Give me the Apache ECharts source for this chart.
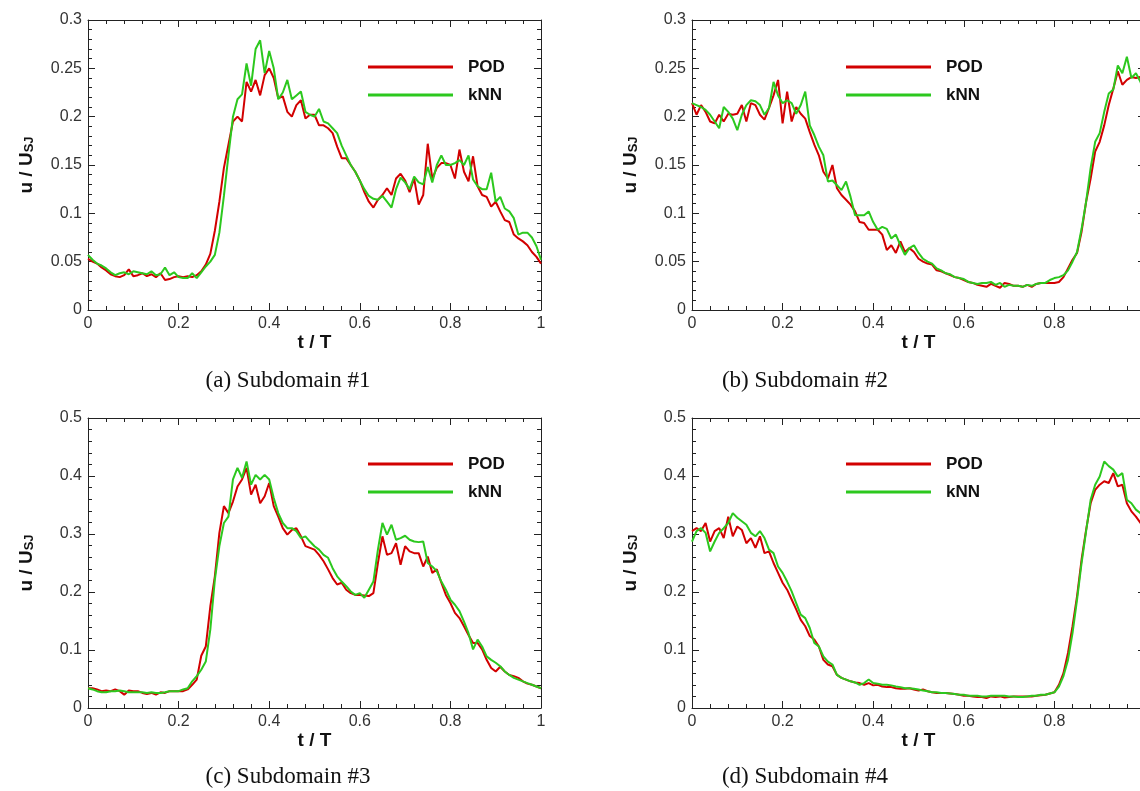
<!DOCTYPE html>
<html>
<head>
<meta charset="utf-8">
<title>u / U_SJ against t / T, four subdomains</title>
<script src="https://cdn.jsdelivr.net/npm/echarts@6/dist/echarts.min.js"></script>
<style>
  html, body { margin: 0; padding: 0; background: #fff; overflow: hidden; }
  #chart { width: 1140px; height: 791px; }
</style>
</head>
<body>
<div id="chart"></div>
<script>
// sample times t/T, every 0.01
const tGrid = [0,0.01,0.02,0.03,0.04,0.05,0.06,0.07,0.08,0.09,
  0.1,0.11,0.12,0.13,0.14,0.15,0.16,0.17,0.18,0.19,
  0.2,0.21,0.22,0.23,0.24,0.25,0.26,0.27,0.28,0.29,
  0.3,0.31,0.32,0.33,0.34,0.35,0.36,0.37,0.38,0.39,
  0.4,0.41,0.42,0.43,0.44,0.45,0.46,0.47,0.48,0.49,
  0.5,0.51,0.52,0.53,0.54,0.55,0.56,0.57,0.58,0.59,
  0.6,0.61,0.62,0.63,0.64,0.65,0.66,0.67,0.68,0.69,
  0.7,0.71,0.72,0.73,0.74,0.75,0.76,0.77,0.78,0.79,
  0.8,0.81,0.82,0.83,0.84,0.85,0.86,0.87,0.88,0.89,
  0.9,0.91,0.92,0.93,0.94,0.95,0.96,0.97,0.98,0.99,1];

// (a) Subdomain #1
const podA = [0.053,0.050,0.048,0.044,0.041,0.037,0.035,0.034,0.036,0.042,
  0.035,0.036,0.038,0.035,0.037,0.034,0.038,0.031,0.032,0.034,
  0.035,0.034,0.035,0.034,0.036,0.040,0.047,0.058,0.082,0.112,
  0.147,0.171,0.195,0.200,0.195,0.236,0.226,0.238,0.222,0.243,
  0.250,0.240,0.219,0.221,0.205,0.200,0.212,0.217,0.198,0.202,
  0.202,0.191,0.191,0.188,0.183,0.169,0.157,0.157,0.150,0.143,
  0.134,0.122,0.112,0.106,0.114,0.119,0.126,0.119,0.136,0.141,
  0.134,0.122,0.136,0.109,0.119,0.172,0.136,0.147,0.152,0.152,
  0.150,0.136,0.166,0.143,0.133,0.159,0.128,0.119,0.117,0.107,
  0.112,0.102,0.093,0.091,0.078,0.074,0.071,0.067,0.060,0.055,0.048];
const knnA = [0.057,0.052,0.048,0.046,0.043,0.039,0.036,0.038,0.039,0.037,
  0.040,0.039,0.038,0.037,0.040,0.036,0.037,0.044,0.036,0.039,
  0.034,0.033,0.033,0.038,0.033,0.039,0.045,0.050,0.057,0.080,
  0.118,0.160,0.200,0.218,0.223,0.255,0.232,0.270,0.279,0.245,
  0.268,0.250,0.218,0.225,0.238,0.218,0.222,0.226,0.205,0.202,
  0.200,0.208,0.195,0.193,0.188,0.183,0.170,0.160,0.150,0.143,
  0.134,0.125,0.118,0.115,0.114,0.118,0.112,0.106,0.125,0.137,
  0.132,0.125,0.138,0.132,0.130,0.148,0.132,0.150,0.160,0.150,
  0.150,0.152,0.155,0.150,0.160,0.135,0.128,0.125,0.125,0.142,
  0.112,0.117,0.105,0.102,0.095,0.078,0.080,0.080,0.075,0.066,0.052];

// (b) Subdomain #2
const podB = [0.214,0.202,0.212,0.205,0.195,0.193,0.202,0.195,0.203,0.202,
  0.203,0.212,0.195,0.214,0.212,0.202,0.197,0.209,0.222,0.238,
  0.193,0.226,0.195,0.210,0.203,0.198,0.184,0.171,0.160,0.143,
  0.136,0.150,0.126,0.119,0.114,0.109,0.102,0.091,0.090,0.083,
  0.083,0.083,0.078,0.062,0.067,0.059,0.071,0.060,0.064,0.060,
  0.053,0.050,0.048,0.047,0.041,0.040,0.038,0.036,0.034,0.033,
  0.031,0.029,0.028,0.026,0.025,0.024,0.027,0.025,0.023,0.028,
  0.027,0.025,0.025,0.024,0.026,0.024,0.027,0.028,0.028,0.028,
  0.028,0.029,0.034,0.043,0.052,0.059,0.081,0.112,0.136,0.164,
  0.174,0.191,0.212,0.229,0.247,0.233,0.238,0.241,0.240,0.241,0.235];
const knnB = [0.214,0.212,0.210,0.207,0.202,0.195,0.188,0.210,0.205,0.198,
  0.186,0.202,0.212,0.217,0.216,0.212,0.202,0.209,0.236,0.222,
  0.214,0.217,0.214,0.203,0.212,0.226,0.191,0.181,0.169,0.160,
  0.133,0.134,0.129,0.124,0.133,0.117,0.098,0.098,0.098,0.102,
  0.091,0.083,0.086,0.084,0.074,0.078,0.067,0.057,0.064,0.067,
  0.059,0.053,0.050,0.048,0.043,0.041,0.038,0.037,0.034,0.033,
  0.032,0.029,0.028,0.027,0.028,0.028,0.029,0.026,0.028,0.024,
  0.026,0.025,0.025,0.024,0.026,0.025,0.027,0.028,0.028,0.031,
  0.033,0.034,0.036,0.041,0.050,0.060,0.084,0.112,0.147,0.174,
  0.183,0.205,0.224,0.228,0.253,0.245,0.262,0.240,0.245,0.236,0.222];

// (c) Subdomain #3
const podC = [0.034,0.034,0.032,0.029,0.030,0.029,0.032,0.029,0.023,0.030,
  0.029,0.029,0.026,0.024,0.026,0.023,0.027,0.026,0.029,0.029,
  0.029,0.029,0.032,0.040,0.049,0.090,0.106,0.175,0.227,0.302,
  0.348,0.336,0.356,0.382,0.394,0.414,0.368,0.385,0.353,0.365,
  0.388,0.348,0.330,0.310,0.299,0.307,0.310,0.296,0.279,0.276,
  0.273,0.264,0.253,0.239,0.224,0.213,0.216,0.204,0.198,0.195,
  0.195,0.194,0.193,0.198,0.250,0.296,0.264,0.267,0.284,0.247,
  0.279,0.270,0.267,0.267,0.244,0.261,0.233,0.239,0.216,0.195,
  0.181,0.164,0.155,0.141,0.126,0.112,0.112,0.101,0.083,0.069,
  0.063,0.071,0.063,0.057,0.055,0.052,0.046,0.042,0.040,0.037,0.034];
const knnC = [0.034,0.032,0.029,0.027,0.027,0.029,0.029,0.030,0.029,0.027,
  0.027,0.027,0.027,0.026,0.027,0.026,0.026,0.027,0.029,0.029,
  0.029,0.032,0.034,0.046,0.055,0.066,0.080,0.135,0.221,0.279,
  0.319,0.330,0.394,0.414,0.397,0.425,0.385,0.402,0.394,0.402,
  0.394,0.362,0.336,0.319,0.310,0.310,0.305,0.293,0.296,0.287,
  0.279,0.273,0.264,0.259,0.241,0.227,0.218,0.210,0.201,0.195,
  0.198,0.190,0.204,0.218,0.273,0.319,0.299,0.316,0.290,0.293,
  0.297,0.290,0.287,0.286,0.287,0.250,0.244,0.236,0.218,0.204,
  0.187,0.178,0.167,0.149,0.129,0.101,0.118,0.106,0.089,0.083,
  0.078,0.072,0.063,0.057,0.052,0.049,0.046,0.043,0.040,0.037,0.034];

// (d) Subdomain #4
const podD = [0.305,0.310,0.305,0.319,0.287,0.305,0.310,0.293,0.330,0.296,
  0.313,0.307,0.284,0.293,0.276,0.296,0.267,0.270,0.250,0.233,
  0.216,0.204,0.187,0.170,0.152,0.141,0.124,0.118,0.106,0.083,
  0.075,0.072,0.057,0.052,0.049,0.046,0.044,0.043,0.040,0.043,
  0.039,0.040,0.037,0.036,0.036,0.034,0.033,0.033,0.034,0.032,
  0.030,0.032,0.029,0.027,0.026,0.026,0.026,0.025,0.024,0.023,
  0.021,0.021,0.020,0.019,0.019,0.017,0.020,0.019,0.020,0.018,
  0.019,0.020,0.020,0.020,0.020,0.020,0.021,0.022,0.023,0.025,
  0.027,0.040,0.060,0.095,0.141,0.193,0.256,0.307,0.353,0.376,
  0.385,0.391,0.388,0.405,0.382,0.385,0.353,0.339,0.330,0.319,0.313];
const knnD = [0.287,0.305,0.310,0.302,0.270,0.287,0.302,0.310,0.319,0.336,
  0.328,0.322,0.316,0.302,0.296,0.305,0.293,0.273,0.267,0.244,
  0.233,0.218,0.201,0.181,0.161,0.155,0.138,0.112,0.106,0.089,
  0.080,0.075,0.057,0.052,0.049,0.046,0.044,0.040,0.043,0.049,
  0.043,0.042,0.040,0.040,0.039,0.037,0.036,0.034,0.034,0.033,
  0.032,0.030,0.029,0.027,0.027,0.026,0.026,0.025,0.024,0.023,
  0.023,0.021,0.021,0.021,0.020,0.020,0.021,0.021,0.021,0.021,
  0.020,0.020,0.019,0.019,0.020,0.021,0.021,0.023,0.023,0.025,
  0.027,0.037,0.055,0.083,0.129,0.187,0.250,0.305,0.359,0.385,
  0.399,0.425,0.417,0.411,0.399,0.405,0.359,0.353,0.342,0.336,0.319];

const seriesNames = ['POD', 'kNN'];
const captions = ['(a) Subdomain #1', '(b) Subdomain #2', '(c) Subdomain #3', '(d) Subdomain #4'];
const yMaxes = [0.3, 0.3, 0.5, 0.5];
const ySteps = [0.05, 0.05, 0.1, 0.1];

const podColor = '#d20000';
const knnColor = '#2cc81e';
const axisColor = '#222';
const sans = '"Liberation Sans", Arial, sans-serif';

// where each panel sits (the right column runs a little past the page edge)
const panels = [
  { left: 88,  top: 20,  pod: podA, knn: knnA, legLeft: 368, legTop: 58,  capX: 288, capY: 381 },
  { left: 692, top: 20,  pod: podB, knn: knnB, legLeft: 846, legTop: 58,  capX: 805, capY: 381 },
  { left: 88,  top: 418, pod: podC, knn: knnC, legLeft: 368, legTop: 455, capX: 288, capY: 777 },
  { left: 692, top: 418, pod: podD, knn: knnD, legLeft: 846, legTop: 455, capX: 805, capY: 777 }
];

function pairs(vals) {
  return tGrid.map((t, i) => [t, vals[i]]);
}

function tickStyle() {
  return {
    axisLine: { show: true, onZero: false, lineStyle: { color: axisColor, width: 1 } },
    axisTick: { show: true, inside: true, length: 7, lineStyle: { color: axisColor } },
    minorTick: { show: true, splitNumber: 5, length: 4, lineStyle: { color: axisColor } },
    splitLine: { show: false },
    minorSplitLine: { show: false }
  };
}

function xAxisOf(i, pos) {
  const main = pos === 'bottom';
  return Object.assign({
    type: 'value', gridIndex: i, position: pos, min: 0, max: 1, interval: 0.2,
    axisLabel: { show: main, fontFamily: sans, fontSize: 16, color: '#333', margin: 6 },
    name: main ? 't / T' : '',
    nameLocation: 'middle', nameGap: 22,
    nameTextStyle: { fontFamily: sans, fontSize: 19, fontWeight: 'bold', color: '#111' }
  }, tickStyle());
}

function yAxisOf(i, pos) {
  const main = pos === 'left';
  return Object.assign({
    type: 'value', gridIndex: i, position: pos, min: 0, max: yMaxes[i], interval: ySteps[i],
    axisLabel: { show: main, fontFamily: sans, fontSize: 16, color: '#333', margin: 6 },
    name: main ? '{a|u / U}{s|SJ}' : '',
    nameLocation: 'middle', nameGap: 52,
    nameTextStyle: {
      fontFamily: sans, fontSize: 19, fontWeight: 'bold', color: '#111',
      rich: {
        a: { fontFamily: sans, fontSize: 19, fontWeight: 'bold', color: '#111' },
        s: { fontFamily: sans, fontSize: 13, fontWeight: 'bold', color: '#111', verticalAlign: 'bottom' }
      }
    }
  }, tickStyle());
}

const chart = echarts.init(document.getElementById('chart'));

const option = {
  backgroundColor: '#fff',
  animation: false,
  grid: panels.map(p => ({
    left: p.left, top: p.top, width: 453, height: 290,
    containLabel: false, outerBoundsMode: 'none'
  })),
  xAxis: panels.flatMap((p, i) => [xAxisOf(i, 'bottom'), xAxisOf(i, 'top')]),
  yAxis: panels.flatMap((p, i) => [yAxisOf(i, 'left'), yAxisOf(i, 'right')]),
  legend: panels.map(p => ({
    orient: 'vertical', left: p.legLeft, top: p.legTop, padding: 0,
    data: seriesNames.map(n => ({ name: n, icon: 'rect' })),
    itemWidth: 85, itemHeight: 3, itemGap: 10,
    selectedMode: false,
    textStyle: { fontFamily: sans, fontSize: 17, fontWeight: 'bold', color: '#111', lineHeight: 18, padding: [0, 0, 0, 10] }
  })),
  graphic: panels.map((p, i) => ({
    type: 'text', x: p.capX, y: p.capY,
    style: { text: captions[i], font: '23px "Liberation Serif", "Times New Roman", serif', fill: '#111', align: 'center', verticalAlign: 'middle' }
  })),
  series: panels.flatMap((p, i) => [
    { name: seriesNames[0], type: 'line', xAxisIndex: 2 * i, yAxisIndex: 2 * i, data: pairs(p.pod),
      showSymbol: false, symbol: 'none', z: 2,
      lineStyle: { color: podColor, width: 2 }, itemStyle: { color: podColor } },
    { name: seriesNames[1], type: 'line', xAxisIndex: 2 * i, yAxisIndex: 2 * i, data: pairs(p.knn),
      showSymbol: false, symbol: 'none', z: 3,
      lineStyle: { color: knnColor, width: 2 }, itemStyle: { color: knnColor } }
  ])
};

chart.setOption(option);
</script>
</body>
</html>
